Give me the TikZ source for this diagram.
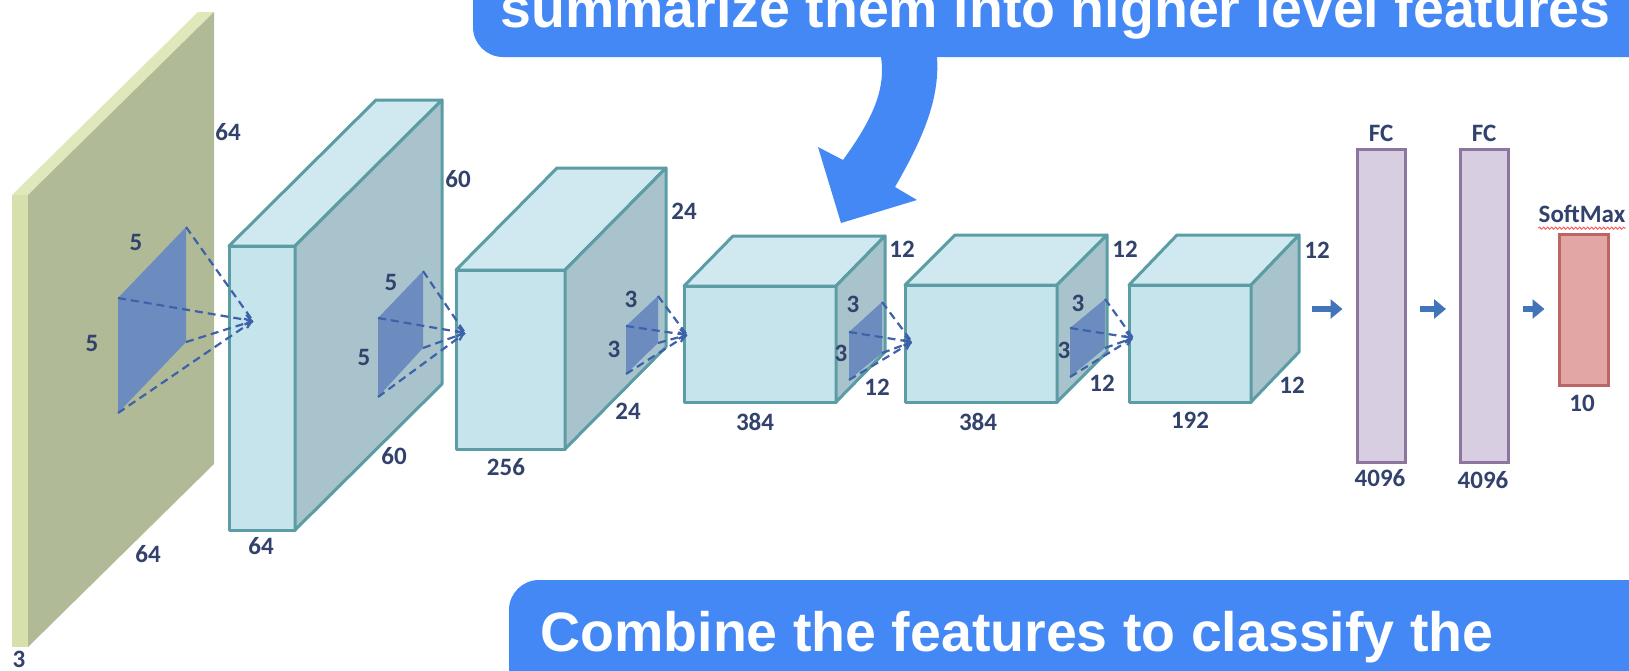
\documentclass[tikz,border=0pt]{standalone}
\usepackage{fontspec}
\newfontfamily\calloutfont{Liberation Sans}
\newfontfamily\dimfont{Carlito}
\usetikzlibrary{arrows.meta,decorations.pathmorphing}

\definecolor{callblue}{RGB}{68,136,245}
\definecolor{dimtext}{RGB}{50,66,108}
\definecolor{boxfront}{RGB}{198,228,236}
\definecolor{boxtop}{RGB}{208,233,241}
\definecolor{boxside}{RGB}{168,195,203}
\definecolor{boxedge}{RGB}{92,156,164}
\definecolor{slabfront}{RGB}{214,224,172}
\definecolor{slabtop}{RGB}{222,232,186}
\definecolor{slabside}{RGB}{176,186,150}
\definecolor{kernelfill}{RGB}{108,140,192}
\definecolor{rayblue}{RGB}{62,98,170}
\definecolor{fcfill}{RGB}{216,206,226}
\definecolor{fcedge}{RGB}{140,118,160}
\definecolor{smfill}{RGB}{226,166,164}
\definecolor{smedge}{RGB}{186,102,102}
\definecolor{flowblue}{RGB}{66,116,186}

% cuboid: front rectangle (#1,#2)-(#3,#4), depth vector (#5,#6), face styles #7 #8 #9
\newcommand{\cuboid}[9]{%
  \path[#7] (#1,#2) rectangle (#3,#4);
  \path[#8] (#1,#2) -- ({#1+#5},{#2+#6}) -- ({#3+#5},{#2+#6}) -- (#3,#2) -- cycle;
  \path[#9] (#3,#2) -- ({#3+#5},{#2+#6}) -- ({#3+#5},{#4+#6}) -- (#3,#4) -- cycle;
}

% receptive field: name, left x, top-left y, bottom-left y, right x, top-right y, bottom-right y, apex
\newcommand{\kernel}[9]{%
  \coordinate (#1tl) at (#2,#3);
  \coordinate (#1bl) at (#2,#4);
  \coordinate (#1tr) at (#5,#6);
  \coordinate (#1br) at (#5,#7);
  \coordinate (#1ap) at (#8,#9);
  \fill[kernelfill] (#1tl) -- (#1tr) -- (#1br) -- (#1bl) -- cycle;
  \draw[ray] (#1tr) -- (#1ap);
  \draw[ray] (#1bl) -- (#1ap);
  \draw[ray,raytip] (#1tl) -- (#1ap);
  \draw[ray,raytip] (#1br) -- (#1ap);
}

\tikzset{
  cfront/.style={fill=boxfront, draw=boxedge, line width=1.5pt, line join=round},
  ctop/.style={fill=boxtop, draw=boxedge, line width=1.5pt, line join=round},
  cside/.style={fill=boxside, draw=boxedge, line width=1.5pt, line join=round},
  sfront/.style={fill=slabfront},
  stop/.style={fill=slabtop},
  sside/.style={fill=slabside},
  ray/.style={draw=rayblue, line width=1.1pt, dash pattern=on 4pt off 2.5pt},
  raytip/.style={-{Straight Barb[length=3pt,width=5pt]}},
  dim/.style={font=\dimfont\bfseries\fontsize{12.5}{14}\selectfont, text=dimtext, inner sep=0pt},
  fcbox/.style={fill=fcfill, draw=fcedge, line width=1.5pt, minimum width=24pt, minimum height=156.5pt, inner sep=0pt},
  smbox/.style={fill=smfill, draw=smedge, line width=1.5pt, minimum width=24.5pt, minimum height=75.5pt, inner sep=0pt},
  flow/.style={draw=flowblue, line width=3.2pt, -{Triangle[length=6pt,width=9.5pt]}, shorten <=6.5pt, shorten >=6.5pt},
  callout/.style={fill=callblue, rounded corners=15pt},
  callouttext/.style={text=white, inner sep=0pt, anchor=base west,
    font=\calloutfont\bfseries\fontsize{27.75}{32}\selectfont},
}

\begin{document}
\begin{tikzpicture}[x=0.5pt, y=-0.5pt]
\useasboundingbox (0,0) rectangle (1629,670);
\clip (0,0) rectangle (1629,670);
\fill[white] (0,0) rectangle (1629,670);

% input image 64x64x3
\cuboid{12}{195}{28}{647}{186}{-183}{sfront}{stop}{sside}
% conv layers
\cuboid{229}{246}{295}{530}{147}{-146}{cfront}{ctop}{cside}
\cuboid{456}{270}{565}{449}{101}{-102}{cfront}{ctop}{cside}
\cuboid{684}{286}{836}{402}{49}{-50}{cfront}{ctop}{cside}
\cuboid{905}{285}{1057}{402}{50}{-50}{cfront}{ctop}{cside}
\cuboid{1129}{285}{1251}{402}{48}{-50}{cfront}{ctop}{cside}

% receptive fields and their projections
\kernel{ka}{118}{298}{413}{186}{227}{342}{253}{321}
\kernel{kb}{378}{318}{397}{423}{271}{348}{465}{333}
\kernel{kc}{626}{326}{374}{658}{296}{343}{687}{335}
\kernel{kd}{849}{332}{380}{882}{302}{353}{912}{342}
\kernel{ke}{1070}{328}{377}{1105}{299}{348}{1133}{338}

% dimension labels
\node[dim] (ia) at (228,132) {64};
\node[dim] (ib) at (148,554) {64};
\node[dim] (ic) at (19,659) {3};
\node[dim] (ka1) at (136,242) {5};
\node[dim] (ka2) at (92,343) {5};
\node[dim] (aa) at (458,179) {60};
\node[dim] (ab) at (394,456) {60};
\node[dim] (ac) at (261,546) {64};
\node[dim] (kb1) at (391,282) {5};
\node[dim] (kb2) at (364,357) {5};
\node[dim] (ba) at (684,211) {24};
\node[dim] (bb) at (628,411) {24};
\node[dim] (bc) at (506,467) {256};
\node[dim] (kc1) at (631,299) {3};
\node[dim] (kc2) at (614,349) {3};
\node[dim] (ca) at (902,249) {12};
\node[dim] (cb) at (877,387) {12};
\node[dim] (cc) at (755,422) {384};
\node[dim] (kd1) at (853,304) {3};
\node[dim] (kd2) at (841,353) {3};
\node[dim] (da) at (1125,249) {12};
\node[dim] (db) at (1102,383) {12};
\node[dim] (dc) at (978,422) {384};
\node[dim] (ke1) at (1078,303) {3};
\node[dim] (ke2) at (1064,350) {3};
\node[dim] (ea) at (1317,250) {12};
\node[dim] (eb) at (1292,385) {12};
\node[dim] (ec) at (1190,420) {192};

% fully connected layers and softmax
\node[fcbox] (fc1) at (1381,305.5) {};
\node[fcbox] (fc2) at (1484.5,305.5) {};
\node[smbox] (sm) at (1583.5,309.5) {};
\node[dim] (fc1t) at (1381,133) {FC};
\node[dim] (fc2t) at (1484,133) {FC};
\node[dim] (fc1b) at (1380,478) {4096};
\node[dim] (fc2b) at (1483,480) {4096};
\node[dim] (smt) at (1582,214) {SoftMax};
\node[dim] (smb) at (1582,403) {10};
\draw[red!65, line width=0.5pt, decorate, decoration={snake, amplitude=0.5pt, segment length=2pt}]
  ([yshift=-2.5pt]smt.south west) -- ([yshift=-2.5pt]smt.south east);

\coordinate (conv5) at (1299,309);
\draw[flow] (conv5) -- (conv5 -| fc1.west);
\draw[flow] (fc1.east |- conv5) -- (fc2.west |- conv5);
\draw[flow] (fc2.east |- conv5) -- (sm.west |- conv5);

% callouts
\fill[callout] (473,-120) rectangle (1760,57);
\fill[callblue] (881,50) -- (881,57) .. controls (886,90) and (872,120) .. (843,160)
  -- (818,147) -- (841,223) -- (917,200) -- (895,187)
  .. controls (922,140) and (940,100) .. (937,57) -- (937,50) -- cycle;
\node[callouttext] (topnote) at (500,27) {summarize them into higher level features};

\fill[callout] (509,580) rectangle (1760,800);
\node[callouttext] (botnote) at (540,651) {Combine the features to classify the};
\end{tikzpicture}
\end{document}
